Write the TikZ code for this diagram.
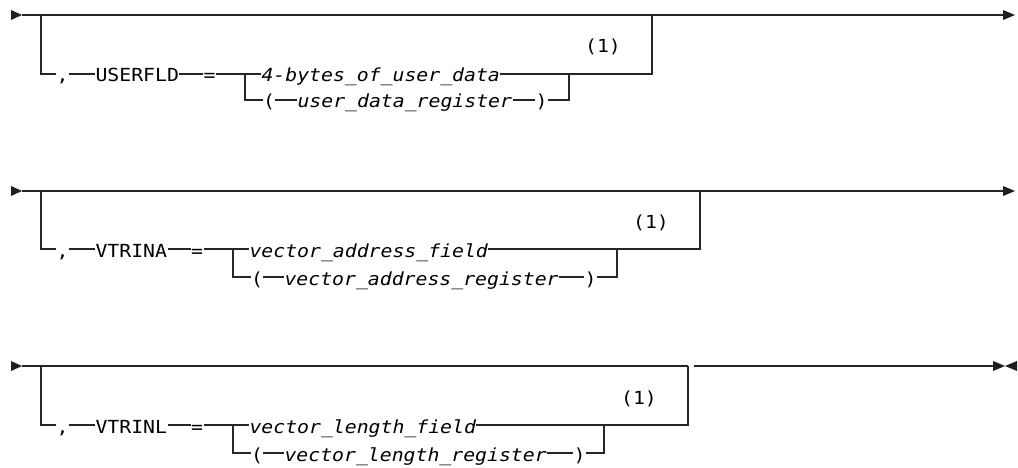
\documentclass[tikz,border=0pt]{standalone}
\usepackage{fontspec}
\newfontfamily\rrfont[FakeStretch=1.1]{DejaVu Sans Mono}
\tikzset{
  rr/.style={inner xsep=0.3pt, inner ysep=0pt, text height=20pt, text depth=4pt, anchor=west,
    text=black, font=\rrfont\fontsize{18}{20}\selectfont},
  rri/.style={rr, font=\rrfont\itshape\fontsize{18}{20}\selectfont},
  note/.style={rr, anchor=center},
  rline/.style={line width=1.2pt, draw=black!85},
  thick seg/.style={line width=2.6pt, draw=black!85},
  tipfill/.style={fill=black!88},
}
\begin{document}
\begin{tikzpicture}[x=1pt,y=-1pt]
\useasboundingbox (0,0) rectangle (1018,468);

% ---------- diagram 1 ----------
\coordinate (d1s) at (22,15);
\coordinate (d1d) at (41,15);
\coordinate (d1t) at (1003,15);
\coordinate (d1sp) at (245,74);
\coordinate (d1mu) at (569,74);
\coordinate (d1ru) at (652,15);
\node[rr]  (d1c)  at (56,74)    {,};
\node[rr]  (d1k)  at (95,74)    {USERFLD};
\node[rr]  (d1e)  at (203,74)   {=};
\node[rri] (d1a)  at (261,74)   {4-bytes\_of\_user\_data};
\node[rr]  (d1lp) at (262.5,100) {(};
\node[rri] (d1b)  at (297,100)  {user\_data\_register};
\node[rr]  (d1rp) at (535,100)  {)};
\node[note] (d1n) at (603,45)   {(1)};
\fill[tipfill] (11,10) -- (d1s) -- (11,20) -- cycle;
\draw[rline] (d1s) -- (d1t);
\fill[tipfill] (1003,10) -- (1015,15) -- (1003,20) -- cycle;
\draw[rline] (d1d) |- (d1c.west);
\draw[rline] (d1c.east) -- (d1k.west);
\draw[rline] (d1k.east) -- (d1e.west);
\draw[rline] (d1e.east) -- (d1a.west);
\draw[rline] (d1sp) |- (d1lp.west);
\draw[rline] (d1lp.east) -- (d1b.west);
\draw[rline] (d1b.east) -- (d1rp.west);
\draw[rline] (d1rp.east) -| (d1mu);
\draw[rline] (d1a.east) -| (d1ru);

% ---------- diagram 2 ----------
\coordinate (d2s) at (22,191);
\coordinate (d2d) at (41,191);
\coordinate (d2t) at (1003,191);
\coordinate (d2sp) at (233,249);
\coordinate (d2mu) at (617,249);
\coordinate (d2ru) at (700,191);
\node[rr]  (d2c)  at (56,249)    {,};
\node[rr]  (d2k)  at (95,249)    {VTRINA};
\node[rr]  (d2e)  at (190.6,249) {=};
\node[rri] (d2a)  at (249,249)   {vector\_address\_field};
\node[rr]  (d2lp) at (250.5,277) {(};
\node[rri] (d2b)  at (284,277)   {vector\_address\_register};
\node[rr]  (d2rp) at (584,277)   {)};
\node[note] (d2n) at (651,220)   {(1)};
\fill[tipfill] (11,186) -- (d2s) -- (11,196) -- cycle;
\draw[rline] (d2s) -- (d2t);
\fill[tipfill] (1003,186) -- (1015,191) -- (1003,196) -- cycle;
\draw[rline] (d2d) |- (d2c.west);
\draw[rline] (d2c.east) -- (d2k.west);
\draw[rline] (d2k.east) -- (d2e.west);
\draw[rline] (d2e.east) -- (d2a.west);
\draw[rline] (d2sp) |- (d2lp.west);
\draw[rline] (d2lp.east) -- (d2b.west);
\draw[rline] (d2b.east) -- (d2rp.west);
\draw[rline] (d2rp.east) -| (d2mu);
\draw[rline] (d2a.east) -| (d2ru);

% ---------- diagram 3 ----------
\coordinate (d3s) at (22,366);
\coordinate (d3d) at (41,366);
\coordinate (d3ru) at (688,366);
\coordinate (d3g1) at (694,366);
\coordinate (d3g2) at (718,366);
\coordinate (d3t) at (1005,366);
\coordinate (d3sp) at (233,425);
\coordinate (d3mu) at (604,425);
\node[rr]  (d3c)  at (56,425)    {,};
\node[rr]  (d3k)  at (95,425)    {VTRINL};
\node[rr]  (d3e)  at (190.6,425) {=};
\node[rri] (d3a)  at (249,425)   {vector\_length\_field};
\node[rr]  (d3lp) at (250.5,453) {(};
\node[rri] (d3b)  at (284,453)   {vector\_length\_register};
\node[rr]  (d3rp) at (573,453)   {)};
\node[note] (d3n) at (639,396)   {(1)};
\fill[tipfill] (11,361) -- (d3s) -- (11,371) -- cycle;
\draw[rline] (d3s) -- (d3ru);
\draw[thick seg] (d3g1) -- (d3g2);
\draw[rline] (d3g2) -- (993,366);
\fill[tipfill] (993,361) -- (d3t) -- (993,371) -- cycle;
\fill[tipfill] (1017,361) -- (d3t) -- (1017,371) -- cycle;
\draw[rline] (d3d) |- (d3c.west);
\draw[rline] (d3c.east) -- (d3k.west);
\draw[rline] (d3k.east) -- (d3e.west);
\draw[rline] (d3e.east) -- (d3a.west);
\draw[rline] (d3sp) |- (d3lp.west);
\draw[rline] (d3lp.east) -- (d3b.west);
\draw[rline] (d3b.east) -- (d3rp.west);
\draw[rline] (d3rp.east) -| (d3mu);
\draw[rline] (d3a.east) -| (d3ru);
\end{tikzpicture}
\end{document}
